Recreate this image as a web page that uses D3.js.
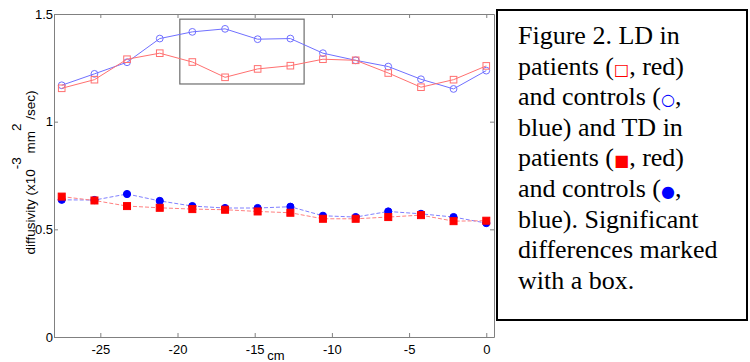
<!DOCTYPE html>
<meta charset="utf-8">
<style>
    body { margin: 0; background: #fff; }
    .tick text { font: 13px "Liberation Sans", Arial, sans-serif; fill: #000; }
    .caption { font: 26px "Liberation Serif", "Times New Roman", serif; fill: #000; }
</style>
<svg width="750" height="362"></svg>
<script src="https://cdn.jsdelivr.net/npm/d3@7"></script>
<script>
    // positions along the tract (cm)
    var positions = [-27.5, -25.38, -23.27, -21.15, -19.04, -16.92, -14.81, -12.69, -10.58, -8.46, -6.35, -4.23, -2.12, 0];
    // LD = longitudinal, TD = transverse diffusivity (x10^-3 mm^2/sec)
    var ldControls = [1.169, 1.222, 1.276, 1.386, 1.417, 1.431, 1.383, 1.386, 1.318, 1.285, 1.256, 1.197, 1.152, 1.237];
    var ldPatients = [1.155, 1.195, 1.290, 1.318, 1.277, 1.206, 1.245, 1.260, 1.290, 1.285, 1.226, 1.160, 1.195, 1.259];
    var tdControls = [0.637, 0.636, 0.664, 0.632, 0.608, 0.599, 0.599, 0.605, 0.563, 0.557, 0.583, 0.572, 0.557, 0.529];
    var tdPatients = [0.652, 0.634, 0.608, 0.600, 0.594, 0.591, 0.583, 0.577, 0.549, 0.549, 0.557, 0.566, 0.538, 0.540];
    var xTicks = [-25, -20, -15, -10, -5, 0];
    var yTicks = [0, 0.5, 1, 1.5];
    // significance box: [x0, x1], [y0, y1]
    var sigX = [-19.85, -11.8];
    var sigY = [1.175, 1.476];
    var captionLines = ["Figure 2. LD in", "patients (\u25A1, red)", "and controls (\u25CB,",
        "blue) and TD in", "patients (\u25A0, red)", "and controls (\u25CF,",
        "blue). Significant", "differences marked", "with a box."];

    var svg = d3.select("svg");
    var mLeft = 54, mRight = 494, mTop = 14, mBottom = 337;

    var x = d3.scaleLinear().domain([-28, 0.5]).range([mLeft, mRight]);
    var y = d3.scaleLinear().domain([0, 1.5]).range([mBottom, mTop]);

    var axisColor = "#808080";
    // axes box
    svg.append("g").attr("transform", "translate(0," + mBottom + ")")
        .call(d3.axisBottom(x).tickValues(xTicks).tickSizeInner(-4).tickSizeOuter(0).tickPadding(8)
            .tickFormat(function (d) { return String(d); }));
    svg.append("g").attr("transform", "translate(0," + mTop + ")")
        .call(d3.axisTop(x).tickValues(xTicks).tickSizeInner(-4).tickSizeOuter(0).tickFormat(""));
    svg.append("g").attr("transform", "translate(" + mLeft + ",0)")
        .call(d3.axisLeft(y).tickValues(yTicks).tickSizeInner(-4).tickSizeOuter(0).tickPadding(1)
            .tickFormat(function (d) { return String(d); }));
    svg.append("g").attr("transform", "translate(" + mRight + ",0)")
        .call(d3.axisRight(y).tickValues(yTicks).tickSizeInner(-4).tickSizeOuter(0).tickFormat(""));
    svg.selectAll(".domain, .tick line").attr("stroke", axisColor);

    // axis labels
    svg.append("text")
        .attr("x", (mLeft + mRight) / 2 + 2).attr("y", 360)
        .attr("text-anchor", "middle")
        .style("font", "13px 'Liberation Sans', Arial, sans-serif")
        .text("cm");

    var ylab = svg.append("text")
        .attr("transform", "translate(35," + ((mTop + mBottom) / 2 - 3) + ") rotate(-90)")
        .attr("text-anchor", "middle")
        .style("font", "13.5px 'Liberation Sans', Arial, sans-serif");
    ylab.append("tspan").text("diffusivity (x10");
    ylab.append("tspan").attr("dy", -14).text("-3");
    ylab.append("tspan").attr("dy", 14).text(" mm");
    ylab.append("tspan").attr("dy", -14).text("2");
    ylab.append("tspan").attr("dy", 14).text(" /sec)");

    // significance box
    svg.append("rect")
        .attr("x", x(sigX[0])).attr("y", y(sigY[1]))
        .attr("width", x(sigX[1]) - x(sigX[0]))
        .attr("height", y(sigY[0]) - y(sigY[1]))
        .attr("fill", "none").attr("stroke", "#6e6e6e").attr("stroke-width", 1.2);

    var line = d3.line().x(function (d) { return x(d[0]); }).y(function (d) { return y(d[1]); });
    function zip(v) { return positions.map(function (p, i) { return [p, v[i]]; }); }

    var series = [
        { values: tdPatients, color: "#ff0000", lineColor: "#ff8080", dash: "4,2", shape: "square", filled: true },
        { values: tdControls, color: "#0000ff", lineColor: "#8080ff", dash: "4,2", shape: "circle", filled: true },
        { values: ldPatients, color: "#ff7070", lineColor: "#ff7070", dash: null, shape: "square", filled: false },
        { values: ldControls, color: "#7070ff", lineColor: "#7070ff", dash: null, shape: "circle", filled: false }
    ];
    // draw TD controls first so red squares sit on top, like the reference
    var order = [1, 0, 3, 2];
    order.forEach(function (k) {
        var s = series[k];
        var pts = zip(s.values);
        svg.append("path").datum(pts)
            .attr("d", line)
            .attr("fill", "none")
            .attr("stroke", s.lineColor)
            .attr("stroke-width", 1)
            .attr("stroke-dasharray", s.dash);
        var g = svg.append("g");
        if (s.shape === "circle") {
            g.selectAll("circle").data(pts).enter().append("circle")
                .attr("cx", function (d) { return x(d[0]); })
                .attr("cy", function (d) { return y(d[1]); })
                .attr("r", s.filled ? 3.6 : 3.4)
                .attr("fill", s.filled ? s.color : "none")
                .attr("stroke", s.color)
                .attr("stroke-width", 1);
        } else {
            var h = s.filled ? 3.5 : 3.3;
            g.selectAll("rect").data(pts).enter().append("rect")
                .attr("x", function (d) { return x(d[0]) - h; })
                .attr("y", function (d) { return y(d[1]) - h; })
                .attr("width", 2 * h).attr("height", 2 * h)
                .attr("fill", s.filled ? s.color : "none")
                .attr("stroke", s.color)
                .attr("stroke-width", 1);
        }
    });

    // caption box
    svg.append("rect")
        .attr("x", 497).attr("y", 10).attr("width", 250).attr("height", 310)
        .attr("fill", "#fff").attr("stroke", "#000").attr("stroke-width", 2);
    var cap = svg.append("text").attr("class", "caption");
    captionLines.forEach(function (t, i) {
        var tl = cap.append("tspan").attr("x", 518).attr("y", 44 + i * 30.6);
        var m = t.match(/^(.*\()([\u25A0\u25A1\u25CB\u25CF])(,.*)$/);
        if (m) {
            tl.append("tspan").text(m[1]);
            var col = (m[2] === "\u25A0" || m[2] === "\u25A1") ? "#ff0000" : "#0000ff";
            tl.append("tspan").attr("fill", col).style("font-size", "16px")
                .style("font-family", "'DejaVu Sans', sans-serif").text(m[2]);
            tl.append("tspan").text(m[3]);
        } else {
            tl.text(t);
        }
    });
</script>
